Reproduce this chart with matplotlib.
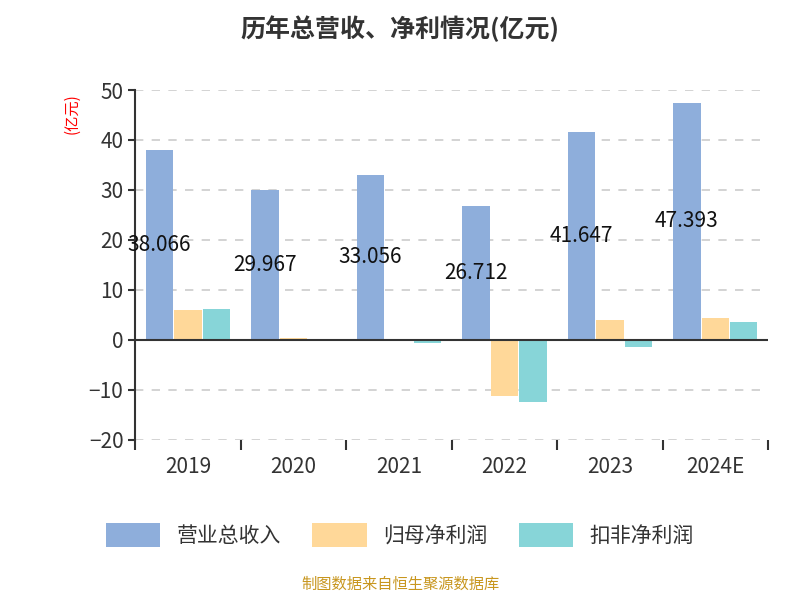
import numpy as np
import matplotlib.pyplot as plt

plt.rcParams['font.family'] = ['Noto Sans CJK SC', 'DejaVu Sans']

years = ['2019', '2020', '2021', '2022', '2023', '2024E']
revenue = [38.066, 29.967, 33.056, 26.712, 41.647, 47.393]
net_profit = [6.0, 0.33, -0.1, -11.2, 4.0, 4.4]
net_profit_ex = [6.2, 0.13, -0.65, -12.5, -1.5, 3.6]

fig = plt.figure(figsize=(8, 6), dpi=100)
ax = fig.add_axes([0.169, 0.267, 0.791, 0.583])

x = np.arange(len(years))
w = 0.26
ax.bar(x - 0.27, revenue, w, color='#8eaedb', label='营业总收入')
ax.bar(x, net_profit, w, color='#ffd899', label='归母净利润')
ax.bar(x + 0.27, net_profit_ex, w, color='#87d5d8', label='扣非净利润')

for xi, v in zip(x, revenue):
    ax.text(xi - 0.27, v / 2, f'{v:.3f}', ha='center', va='center', fontsize=15, color='#111111')

ax.set_xlim(-0.5, len(years) - 0.5)
ax.set_ylim(-20, 50)
ax.set_yticks(range(-20, 51, 10))
ax.set_xticks(x)
ax.set_xticklabels(years)
ax.set_xticks(np.arange(-0.5, len(years), 1), minor=True)
ax.tick_params(axis='x', which='major', length=0, labelsize=15, colors='#333333', pad=12)
ax.tick_params(axis='x', which='minor', length=7, width=1.5, color='#333333')
ax.tick_params(axis='y', labelsize=15, colors='#333333', length=5, width=1.5)
ax.grid(axis='y', linestyle=(0, (5, 5)), color='#cccccc', linewidth=1.2)
ax.set_axisbelow(True)
for s in ['top', 'right', 'bottom']:
    ax.spines[s].set_visible(False)
ax.spines['left'].set_color('#333333')
ax.spines['left'].set_linewidth(1.5)
ax.axhline(0, color='#333333', linewidth=1.5)

fig.text(0.09, 0.81, '(亿元)', color='red', fontsize=11, rotation=90, ha='center', va='center')
fig.suptitle('历年总营收、净利情况(亿元)', fontsize=18, fontweight='bold', color='#333333', y=0.975)

fig.legend(loc='center', bbox_to_anchor=(0.5, 0.108), ncol=3, frameon=False, fontsize=15,
           handlelength=2.6, handleheight=1.4, columnspacing=1.5, labelcolor='#333333')
fig.text(0.5, 0.018, '制图数据来自恒生聚源数据库', color='#c8961e', fontsize=11, ha='center')

fig.savefig('out.png')
